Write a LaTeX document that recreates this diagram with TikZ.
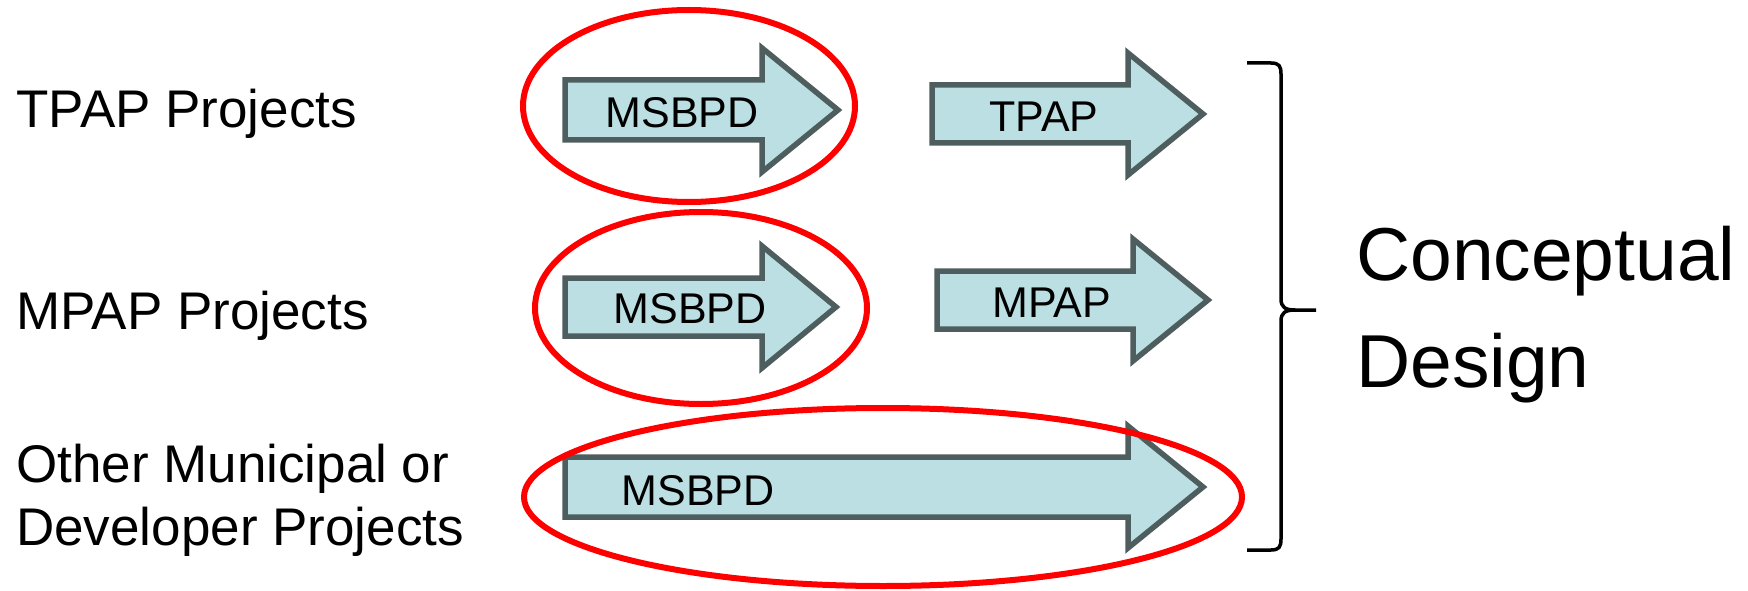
\documentclass[tikz,border=0pt]{standalone}
\usepackage{fontspec}
\setmainfont{Liberation Sans}
\usetikzlibrary{shapes.geometric}
\definecolor{arrowfill}{RGB}{187,223,227}
\definecolor{arrowline}{RGB}{78,94,94}
\definecolor{ringred}{RGB}{255,0,0}
\tikzset{
  blockarrow/.style={fill=arrowfill, draw=arrowline, line width=5.5pt, line join=miter},
  ring/.style={ellipse, draw=ringred, line width=6pt, inner sep=0pt, outer sep=0pt},
  lefttext/.style={anchor=base west, inner sep=0pt, font=\fontsize{53}{63}\selectfont},
  arrowtext/.style={inner sep=0pt, font=\fontsize{43}{50}\selectfont},
  bigtext/.style={anchor=base west, inner sep=0pt, font=\fontsize{75}{90}\selectfont},
  bracestyle/.style={draw=black, line width=3.5pt, line cap=butt}
}
\begin{document}
\begin{tikzpicture}[x=1pt,y=-1pt]
\useasboundingbox (0,0) rectangle (1748,591);

% left labels
\node[lefttext] (t1) at (16,128) {TPAP Projects};
\node[lefttext] (t2) at (16,329) {MPAP Projects};
\node[lefttext] (t3) at (16,482) {Other Municipal or};
\node[lefttext] (t4) at (16,545) {Developer Projects};

% arrows
\draw[blockarrow] (565,80) -- (762,80) -- (762,48) -- (838,110) -- (762,172) -- (762,140) -- (565,140) -- cycle;
\draw[blockarrow] (932,85) -- (1128,85) -- (1128,53) -- (1203,114) -- (1128,175) -- (1128,143) -- (932,143) -- cycle;
\draw[blockarrow] (565,278) -- (762,278) -- (762,246) -- (836,307) -- (762,368) -- (762,336) -- (565,336) -- cycle;
\draw[blockarrow] (937,271) -- (1133,271) -- (1133,239) -- (1208,300) -- (1133,361) -- (1133,329) -- (937,329) -- cycle;
\draw[blockarrow] (565,457) -- (1128,457) -- (1128,426) -- (1203,487) -- (1128,548) -- (1128,517) -- (565,517) -- cycle;

% arrow texts
\node[arrowtext] (a1) at (682,113) {MSBPD};
\node[arrowtext] (a2) at (1044,117) {TPAP};
\node[arrowtext] (a3) at (690,309) {MSBPD};
\node[arrowtext] (a4) at (1052,303) {MPAP};
\node[arrowtext] (a5) at (698,491) {MSBPD};

% red rings
\node[ring, minimum width=332pt, minimum height=192pt] (e1) at (689,106) {};
\node[ring, minimum width=332pt, minimum height=192pt] (e2) at (701,308) {};
\node[ring, minimum width=718pt, minimum height=178pt] (e3) at (883,497) {};

% brace
\draw[bracestyle] (1247,63) -- (1271,63) .. controls (1279,63) and (1281,66) .. (1281,74)
  -- (1281,299) .. controls (1281,307) and (1285,310) .. (1295,310) -- (1316,310);
\draw[bracestyle] (1295,310) .. controls (1285,310) and (1281,313) .. (1281,321)
  -- (1281,539) .. controls (1281,547) and (1279,550) .. (1271,550) -- (1247,550);

% right label
\node[bigtext] (c1) at (1356,280) {Conceptual};
\node[bigtext] (c2) at (1356,387) {Design};
\end{tikzpicture}
\end{document}
